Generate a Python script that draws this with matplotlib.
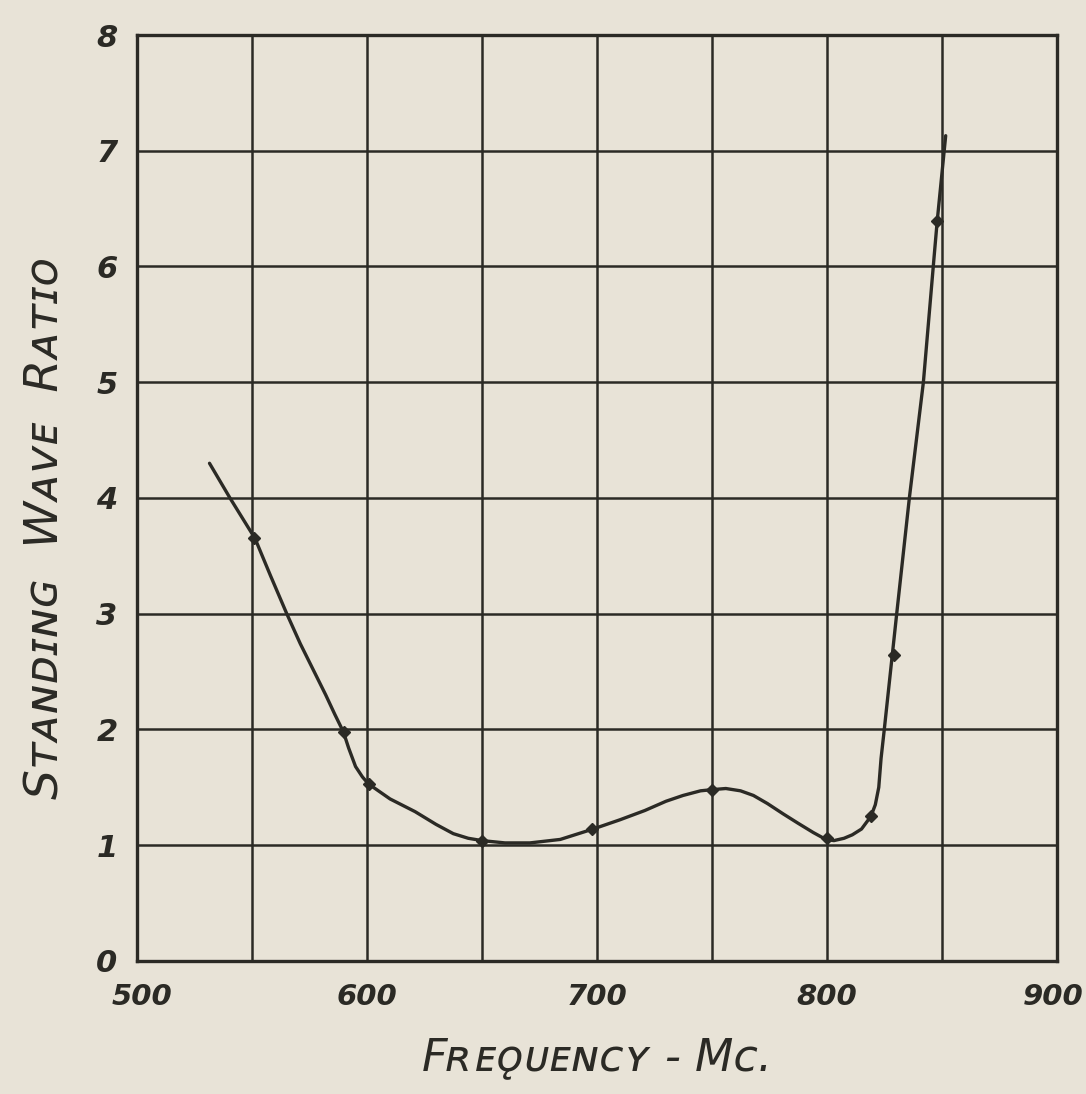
import matplotlib
matplotlib.use("Agg")
import matplotlib.pyplot as plt
import matplotlib.transforms as mtransforms
from matplotlib.ticker import MultipleLocator

# measured points (Mc, SWR)
freq = [551, 590, 601, 650, 698, 750, 800, 819, 829, 848]
swr = [3.65, 1.98, 1.53, 1.04, 1.14, 1.48, 1.06, 1.25, 2.64, 6.39]

# hand-drawn curve
curve_f = [531.5, 540.4, 551.3, 558.0, 565.1, 571.0, 577.0, 582.0, 586.0, 589.7,
           592.0, 595.0, 598.0, 600.6, 610.0, 620.9, 630.0, 637.5, 644.0, 650.0,
           660.0, 670.8, 684.0, 698.3, 710.0, 720.8, 730.0, 737.4, 745.0, 749.9,
           756.0, 762.4, 768.0, 774.1, 781.0, 787.4, 794.0, 799.5, 803.0, 807.4,
           811.0, 815.0, 819.1, 821.0, 822.5, 823.5, 824.9, 830.3, 835.8, 841.9,
           846.5, 847.9, 851.6]
curve_s = [4.30, 4.00, 3.65, 3.33, 3.00, 2.74, 2.50, 2.30, 2.13, 1.98,
           1.84, 1.68, 1.59, 1.53, 1.40, 1.29, 1.18, 1.10, 1.06, 1.04,
           1.02, 1.02, 1.05, 1.14, 1.22, 1.30, 1.38, 1.43, 1.47, 1.48,
           1.49, 1.47, 1.43, 1.36, 1.27, 1.19, 1.11, 1.05, 1.04, 1.06,
           1.09, 1.14, 1.25, 1.35, 1.50, 1.75, 2.00, 3.00, 4.00, 5.00,
           6.07, 6.39, 7.13]

xticks = [500, 600, 700, 800, 900]
yticks = [0, 1, 2, 3, 4, 5, 6, 7, 8]
xlabels = ["500", "600", "700", "800", "900"]
ylabels = ["0", "1", "2", "3", "4", "5", "6", "7", "8"]

paper = "#e8e3d7"
ink = "#2b2a25"

fig = plt.figure(figsize=(10.86, 10.94), dpi=100, facecolor=paper)
ax = fig.add_axes([0.1262, 0.1216, 0.8471, 0.8464], facecolor=paper)

ax.plot(curve_f, curve_s, color=ink, lw=2.4, solid_capstyle="round", solid_joinstyle="round")
ax.plot(freq, swr, linestyle="none", marker="D", markersize=6, color=ink)

ax.set_xlim(500, 900)
ax.set_ylim(0, 8)
ax.xaxis.set_minor_locator(MultipleLocator(50))
ax.set_yticks(yticks)
ax.set_xticks(xticks)
ax.set_xticklabels(xlabels, fontsize=21, fontstyle="italic", fontweight="bold", color=ink)
ax.set_yticklabels(ylabels, fontsize=22, fontstyle="italic", fontweight="bold", color=ink)
ax.tick_params(which="both", length=0)
ax.tick_params(axis="x", pad=16)
ax.tick_params(axis="y", pad=14)
ax.grid(True, which="both", color=ink, lw=1.8)
for s in ax.spines.values():
    s.set_color(ink)
    s.set_linewidth(2.4)

# nudge end labels inward like the hand lettering
lbls = ax.get_xticklabels()
lbls[0].set_transform(lbls[0].get_transform() + mtransforms.ScaledTranslation(0.05, 0, fig.dpi_scale_trans))
lbls[-1].set_transform(lbls[-1].get_transform() + mtransforms.ScaledTranslation(-0.04, 0, fig.dpi_scale_trans))

ax.set_xlabel("Fʀᴇǫᴜᴇɴᴄʏ - Mᴄ.", fontsize=32, fontstyle="italic", color=ink, labelpad=18)
ax.set_ylabel("Sᴛᴀɴᴅɪɴɢ  Wᴀᴠᴇ  Rᴀᴛɪᴏ", fontsize=34, fontstyle="italic", color=ink)
ax.yaxis.set_label_coords(-0.074, 0.468)

fig.savefig("out.png", dpi=100, facecolor=paper)
